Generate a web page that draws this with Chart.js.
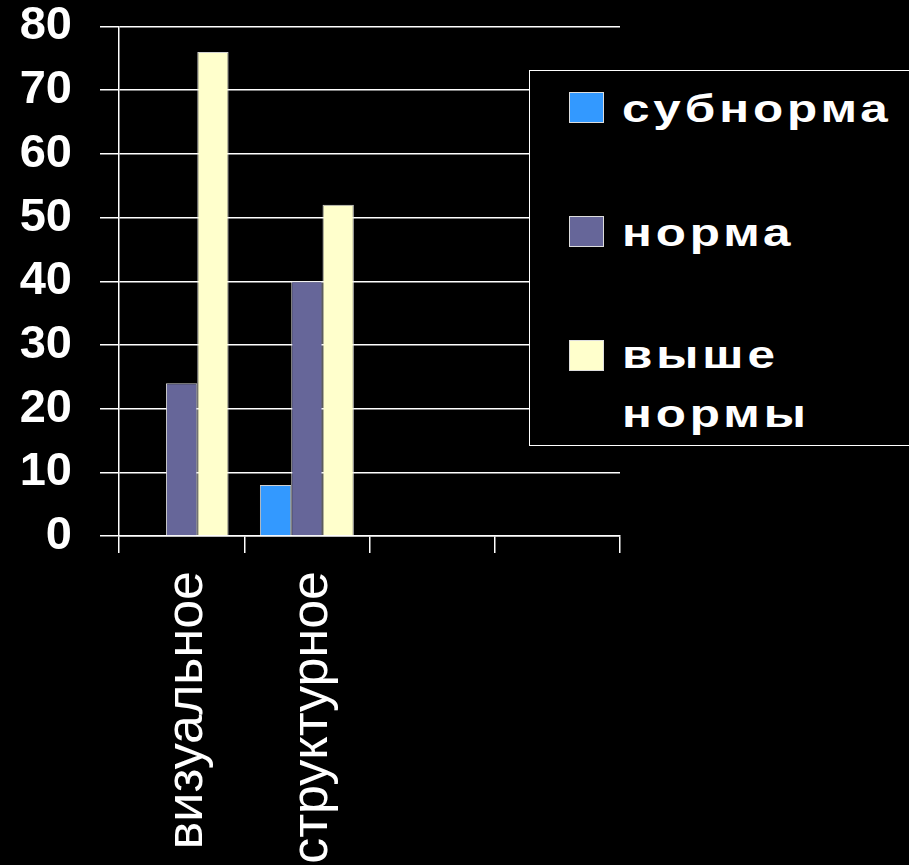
<!DOCTYPE html>
<html>
<head>
<meta charset="utf-8">
<script src="https://cdn.jsdelivr.net/npm/chart.js@4/dist/chart.umd.min.js"></script>
<style>
  html, body { margin: 0; padding: 0; background: #000; overflow: hidden; }
  #wrap { position: relative; width: 909px; height: 865px; }
  #legend { position: absolute; left: 529px; top: 70px; width: 400px; height: 376px;
    background: #000; border: 1.5px solid #fff; box-sizing: border-box; }
  .sw { position: absolute; left: 39px; width: 35px; height: 31px; box-sizing: border-box; border: 1px solid #ddd; }
  .lt { position: absolute; left: 92px; color: #fff; font: bold 38px "Liberation Sans", Arial, sans-serif;
    letter-spacing: 3px; line-height: 59px; white-space: pre; transform: scaleX(1.3); transform-origin: 0 0; }
</style>
</head>
<body>
<div id="wrap">
  <canvas id="c" width="909" height="865"></canvas>
  <div id="legend"></div>
</div>
<script>
const categories = ['визуальное', 'структурное', '', ''];
const seriesNames = ['субнорма', 'норма', 'выше\nнормы'];
const subnorm = [0, 8, null, null];
const norm = [24, 40, null, null];
const aboveNorm = [76, 52, null, null];
const seriesColors = ['#3399FF', '#666699', '#FFFFCC'];
const yTicks = [0, 10, 20, 30, 40, 50, 60, 70, 80];

const seriesData = [subnorm, norm, aboveNorm];
const datasets = seriesData.map((d, i) => ({
  label: seriesNames[i],
  data: d,
  backgroundColor: seriesColors[i],
  borderColor: 'rgba(230,230,230,0.9)',
  borderWidth: 1,
  categoryPercentage: 0.75,
  barPercentage: 1.0
}));

// HTML legend
const leg = document.getElementById('legend');
const textTops = [8.5, 132.5, 255];
seriesNames.forEach((name, i) => {
  const sw = document.createElement('div');
  sw.className = 'sw';
  sw.style.top = (20.5 + i * 124) + 'px';
  sw.style.background = seriesColors[i];
  leg.appendChild(sw);
  const t = document.createElement('div');
  t.className = 'lt';
  t.style.top = textTops[i] + 'px';
  t.textContent = name;
  leg.appendChild(t);
});

new Chart(document.getElementById('c'), {
  type: 'bar',
  data: { labels: categories, datasets },
  options: {
    responsive: false,
    animation: false,
    devicePixelRatio: 1,
    layout: { padding: { top: 26.5, right: 289, left: 0, bottom: 0 } },
    plugins: { legend: { display: false }, tooltip: { enabled: false } },
    scales: {
      x: {
        afterFit: s => { s.height = 329; },
        grid: {
          offset: true,
          color: ctx => ctx.index === categories.length ? '#fff' : 'rgba(0,0,0,0)',
          tickColor: '#fff',
          tickLength: 17,
          lineWidth: 1.5
        },
        border: { color: '#fff', width: 1.5 },
        ticks: {
          color: '#fff',
          minRotation: 90,
          maxRotation: 90,
          padding: 18,
          labelOffset: 6,
          font: { family: '"Liberation Sans", Arial, sans-serif', size: 52 }
        }
      },
      y: {
        min: 0,
        max: 80,
        afterFit: s => { s.width = 119; s.paddingTop = 0; s.paddingBottom = 0; },
        afterBuildTicks: s => { s.ticks = yTicks.map(v => ({ value: v })); },
        grid: { color: '#fff', tickColor: '#fff', lineWidth: 1.5, tickLength: 19 },
        border: { color: '#fff', width: 1.5 },
        ticks: {
          color: '#fff',
          padding: 28,
          font: { family: '"Liberation Sans", Arial, sans-serif', size: 47, weight: 'bold' }
        }
      }
    }
  }
});
</script>
</body>
</html>
